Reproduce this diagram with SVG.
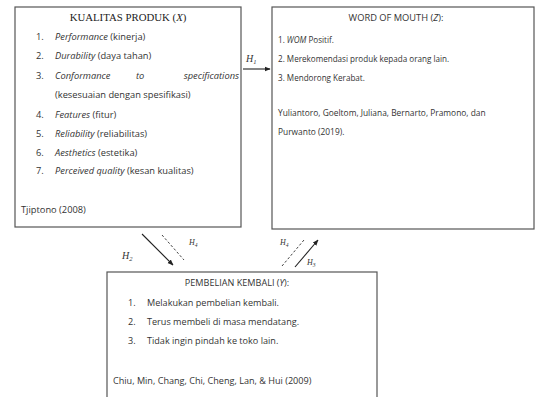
<svg xmlns="http://www.w3.org/2000/svg" width="537" height="397" viewBox="0 0 537 397">
<defs>
<style>
.box{fill:#fff;stroke:#555;stroke-width:1.2}
.s{font-family:"Open Sans","Liberation Sans",sans-serif;fill:#333}
.l{font-size:9.3px}
.r{font-size:8.1px}
.b{font-size:9.1px}
.ser{font-family:"Liberation Serif",serif;fill:#222}
.h{font-family:"Liberation Serif",serif;font-style:italic;fill:#333}
.ln{stroke:#222;stroke-width:1.1;fill:none}
.dash{stroke:#444;stroke-width:1;stroke-dasharray:2.5 2;fill:none}
</style>
<marker id="ah" viewBox="0 0 10 10" refX="9" refY="5" markerWidth="6" markerHeight="6" markerUnits="userSpaceOnUse" orient="auto">
<path d="M0,1 L10,5 L0,9 Z" fill="#222"/>
</marker>
</defs>
<rect width="537" height="397" fill="#fff"/>

<g id="kualitas-produk">
<rect class="box" x="15" y="7" width="226" height="220"/>
<text class="ser" x="128" y="21" font-size="10.8" text-anchor="middle">KUALITAS PRODUK (<tspan font-style="italic">X</tspan>)</text>
<g class="s l">
<text x="36" y="40">1.</text><text x="55" y="40"><tspan font-style="italic">Performance</tspan> (kinerja)</text>
<text x="36" y="59">2.</text><text x="55" y="59"><tspan font-style="italic">Durability</tspan> (daya tahan)</text>
<text x="36" y="79">3.</text><text x="55" y="79" font-style="italic">Conformance</text><text x="136" y="79" font-style="italic">to</text><text x="239" y="79" font-style="italic" text-anchor="end">specifications</text>
<text x="55" y="98">(kesesuaian dengan spesifikasi)</text>
<text x="36" y="118">4.</text><text x="55" y="118"><tspan font-style="italic">Features</tspan> (fitur)</text>
<text x="36" y="137">5.</text><text x="55" y="137"><tspan font-style="italic">Reliability</tspan> (reliabilitas)</text>
<text x="36" y="156">6.</text><text x="55" y="156"><tspan font-style="italic">Aesthetics</tspan> (estetika)</text>
<text x="36" y="174">7.</text><text x="55" y="174"><tspan font-style="italic">Perceived quality</tspan> (kesan kualitas)</text>
<text x="21" y="213">Tjiptono (2008)</text>
</g>
</g>

<g id="word-of-mouth">
<rect class="box" x="272" y="7" width="262" height="222"/>
<g class="s r">
<text x="396" y="21" text-anchor="middle" font-size="9.3">WORD OF MOUTH (<tspan font-style="italic">Z</tspan>):</text>
<text x="278" y="43">1. <tspan font-style="italic">WOM</tspan> Positif.</text>
<text x="278" y="62">2. Merekomendasi produk kepada orang lain.</text>
<text x="278" y="81">3. Mendorong Kerabat.</text>
<text x="278" y="116" font-size="8.4">Yuliantoro, Goeltom, Juliana, Bernarto, Pramono, dan</text>
<text x="278" y="135" font-size="8.4">Purwanto (2019).</text>
</g>
</g>

<g id="pembelian-kembali">
<rect class="box" x="107" y="272" width="270" height="135"/>
<g class="s b">
<text x="237" y="286" text-anchor="middle">PEMBELIAN KEMBALI (<tspan font-style="italic">Y</tspan>):</text>
<text x="128" y="306">1.</text><text x="147" y="306">Melakukan pembelian kembali.</text>
<text x="128" y="325">2.</text><text x="147" y="325">Terus membeli di masa mendatang.</text>
<text x="128" y="344">3.</text><text x="147" y="344">Tidak ingin pindah ke toko lain.</text>
<text x="113" y="384">Chiu, Min, Chang, Chi, Cheng, Lan, &amp; Hui (2009)</text>
</g>
</g>

<g id="connectors">
<line class="ln" x1="243" y1="69" x2="270" y2="69" marker-end="url(#ah)"/>
<line class="ln" x1="142" y1="234" x2="173" y2="265" marker-end="url(#ah)"/>
<line class="dash" x1="162" y1="235" x2="184" y2="260"/>
<line class="dash" x1="282" y1="266" x2="304" y2="240"/>
<line class="ln" x1="295" y1="267" x2="318" y2="240" marker-end="url(#ah)"/>
</g>

<g id="labels">
<text class="h" x="246" y="62" font-size="10">H<tspan font-size="6.5" dy="1.5">1</tspan></text>
<text class="h" x="122" y="259" font-size="10">H<tspan font-size="6.5" dy="1.5">2</tspan></text>
<text class="h" x="189" y="245" font-size="8">H<tspan font-size="5.5" dy="1.5">4</tspan></text>
<text class="h" x="280" y="245" font-size="8">H<tspan font-size="5.5" dy="1.5">4</tspan></text>
<text class="h" x="307" y="265" font-size="8">H<tspan font-size="5.5" dy="1.5">3</tspan></text>
</g>
</svg>
